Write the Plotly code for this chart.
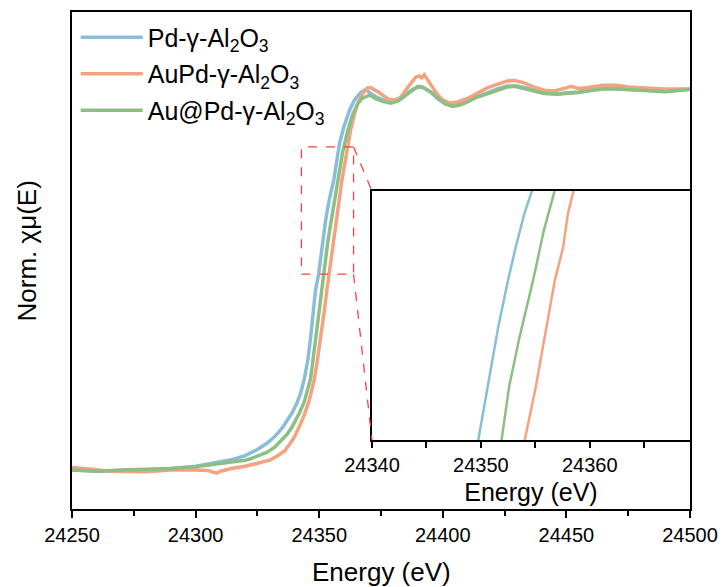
import plotly.graph_objects as go

# ---------------- data ----------------
pd_E = [24250, 24255, 24260, 24270, 24280, 24290, 24295, 24300, 24305, 24310,
        24315, 24320, 24325, 24329, 24332, 24335, 24337, 24339, 24341, 24342.5,
        24344, 24345.4, 24346.5, 24347.5, 24348.5, 24349.76, 24350.6, 24351.6, 24352.5, 24353.2,
        24354.0, 24354.65, 24355.9, 24358.2, 24360, 24362.3, 24364.3, 24366.6, 24369, 24370,
        24373, 24376, 24379, 24382, 24385, 24388, 24390, 24392, 24395, 24398,
        24401, 24404, 24407, 24410, 24414, 24418, 24422, 24426, 24430, 24434,
        24438, 24442, 24446, 24450, 24455, 24460, 24465, 24470, 24475, 24480,
        24485, 24490, 24495, 24500]
pd_mu = [0.001, 0.000, -0.003, -0.001, 0.000, 0.004, 0.007, 0.010, 0.016, 0.021,
         0.028, 0.038, 0.054, 0.071, 0.088, 0.110, 0.129, 0.150, 0.176, 0.202,
         0.240, 0.289, 0.346, 0.412, 0.472, 0.514, 0.560, 0.611, 0.651, 0.679,
         0.708, 0.727, 0.761, 0.857, 0.901, 0.945, 0.971, 0.990, 1.000, 0.992,
         0.979, 0.971, 0.969, 0.974, 0.987, 1.000, 1.005, 1.003, 0.992, 0.974,
         0.961, 0.958, 0.963, 0.971, 0.981, 0.990, 1.000, 1.008, 1.008, 1.003,
         0.995, 0.990, 0.987, 0.990, 0.992, 0.997, 1.001, 1.001, 0.999, 0.999,
         0.996, 0.996, 0.997, 1.000]

aupd_E = [24250, 24255, 24260, 24265, 24270, 24280, 24290, 24295, 24300, 24305,
          24308.5, 24310, 24315, 24320, 24325, 24330, 24333, 24336, 24338, 24340,
          24342, 24344, 24346, 24347, 24348, 24349, 24350.5, 24352, 24353.1, 24354.0,
          24355.05, 24355.7, 24356.8, 24357.55, 24358.0, 24358.5, 24359.2, 24362.7, 24364.5, 24366,
          24367.5, 24369.5, 24371, 24372.5, 24374, 24376, 24378, 24380, 24382.5, 24385,
          24387, 24389, 24390.5, 24391.5, 24392.5, 24394, 24396, 24398, 24400, 24403,
          24406, 24410, 24414, 24418, 24422, 24426, 24429, 24433, 24437, 24441,
          24445, 24448, 24450, 24452, 24455, 24460, 24465, 24470, 24475, 24480,
          24485, 24490, 24495, 24500]
aupd_mu = [0.007, 0.005, 0.001, -0.003, -0.004, -0.004, 0.000, 0.001, 0.000, -0.001,
           -0.008, -0.003, 0.005, 0.010, 0.018, 0.026, 0.037, 0.050, 0.068, 0.087,
           0.115, 0.145, 0.184, 0.210, 0.238, 0.276, 0.341, 0.415, 0.472, 0.514,
           0.560, 0.594, 0.651, 0.679, 0.708, 0.727, 0.761, 0.892, 0.940, 0.969,
           0.987, 1.003, 1.004, 0.997, 0.992, 0.982, 0.974, 0.971, 0.974, 0.997,
           1.016, 1.031, 1.034, 1.029, 1.037, 1.024, 1.003, 0.984, 0.971, 0.963,
           0.966, 0.975, 0.988, 1.003, 1.012, 1.021, 1.022, 1.016, 1.005, 0.997,
           0.995, 0.999, 1.003, 1.007, 1.001, 1.005, 1.010, 1.010, 1.005, 1.003,
           1.001, 1.000, 1.000, 1.000]

aupd_core_E = [24250, 24255, 24260, 24270, 24280, 24290, 24300, 24305, 24310, 24315,
               24320, 24322, 24325, 24329, 24332, 24335, 24337, 24339, 24342, 24344,
               24345, 24346.5, 24347.5, 24348.5, 24349.5, 24350.5, 24351.9, 24352.6, 24353.5, 24354.2,
               24354.8, 24355.8, 24356.2, 24356.8, 24357.6, 24359.5, 24361.6, 24363.5, 24365.5, 24367.5,
               24370.4, 24373, 24376, 24379, 24382, 24385, 24388, 24390, 24392, 24395,
               24398, 24401, 24404, 24407, 24410, 24414, 24418, 24422, 24426, 24429,
               24433, 24437, 24441, 24446, 24450, 24455, 24460, 24465, 24470, 24475,
               24480, 24485, 24490, 24495, 24500]
aupd_core_mu = [0.000, -0.001, -0.003, 0.000, 0.001, 0.004, 0.009, 0.013, 0.016, 0.020,
                0.026, 0.029, 0.037, 0.047, 0.060, 0.079, 0.094, 0.113, 0.150, 0.180,
                0.205, 0.240, 0.289, 0.341, 0.399, 0.457, 0.514, 0.560, 0.600, 0.628,
                0.651, 0.694, 0.708, 0.727, 0.761, 0.835, 0.892, 0.932, 0.961, 0.976,
                0.984, 0.974, 0.967, 0.963, 0.969, 0.984, 0.999, 1.007, 1.005, 0.993,
                0.976, 0.961, 0.954, 0.958, 0.966, 0.979, 0.987, 0.997, 1.005, 1.007,
                1.001, 0.995, 0.988, 0.986, 0.988, 0.991, 0.996, 1.000, 1.000, 0.999,
                0.997, 0.995, 0.993, 0.996, 0.999]

names = ["Pd-γ-Al<sub>2</sub>O<sub>3</sub>",
         "AuPd-γ-Al<sub>2</sub>O<sub>3</sub>",
         "Au@Pd-γ-Al<sub>2</sub>O<sub>3</sub>"]
colors = ["#88BED9", "#F4A27F", "#8DBF84"]

main_xrange = [24250, 24500]
main_yrange = [-0.102, 1.202]
inset_xrange = [24340, 24369.2]
inset_yrange = [0.514, 0.727]
zoom_box_x = [24342.8, 24363.9]
zoom_box_y = [0.514, 0.848]
main_xticks = [24250, 24300, 24350, 24400, 24450, 24500]
inset_xticks = [24340, 24350, 24360]

FONT = "Arial, Liberation Sans, sans-serif"

fig = go.Figure()
series = [(pd_E, pd_mu), (aupd_E, aupd_mu), (aupd_core_E, aupd_core_mu)]
for i, ((E, mu), nm, c) in enumerate(zip(series, names, colors)):
    fig.add_trace(go.Scatter(x=E, y=mu, mode="lines", name=nm, legendgroup=f"g{i}",
                             line=dict(color=c, width=3.5)))
for (E, mu), nm, c in zip(series, names, colors):
    fig.add_trace(go.Scatter(x=E, y=mu, mode="lines", name=nm, showlegend=False,
                             line=dict(color=c, width=2.5), xaxis="x2", yaxis="y2"))

ix0, ix1 = 0.4854, 1.0
iy0, iy1 = 0.1388, 0.6398

fig.update_layout(
    width=723, height=587,
    margin=dict(l=72, r=33, t=12, b=78),
    paper_bgcolor="white", plot_bgcolor="white",
    font=dict(family=FONT, color="black", size=20),
    showlegend=True,
    legend=dict(x=0.006, y=0.995, xanchor="left", yanchor="top",
                font=dict(size=25), bgcolor="rgba(0,0,0,0)",
                itemwidth=62, tracegroupgap=1),
    xaxis=dict(range=main_xrange, tickvals=main_xticks, tickformat="d", automargin=False,
               showline=True, linecolor="black", linewidth=2, mirror=True,
               ticks="outside", ticklen=7, tickwidth=1.5, tickcolor="black",
               minor=dict(ticks="outside", ticklen=5, tickwidth=1.5, tickcolor="black", dtick=25),
               showgrid=False, zeroline=False,
               tickfont=dict(size=20)),
    yaxis=dict(range=main_yrange, showline=True, linecolor="black", linewidth=2, mirror=True,
               automargin=False,
               showticklabels=False, ticks="", showgrid=False, zeroline=False),
    xaxis2=dict(domain=[ix0, ix1], anchor="y2", range=inset_xrange, tickvals=inset_xticks,
                tickformat="d", automargin=False,
                showline=True, linecolor="black", linewidth=2, mirror=True,
                ticks="outside", ticklen=6, tickwidth=1.5, tickcolor="black",
                minor=dict(ticks="outside", ticklen=6, tickwidth=1.5, tickcolor="black", dtick=5),
                showgrid=False, zeroline=False,
                title=dict(text="Energy (eV)", font=dict(size=25), standoff=8),
                tickfont=dict(size=20)),
    yaxis2=dict(domain=[iy0, iy1], anchor="x2", range=inset_yrange, automargin=False,
                showline=True, linecolor="black", linewidth=2, mirror=True,
                showticklabels=False, ticks="", showgrid=False, zeroline=False),
)

# axis titles of the main plot
fig.add_annotation(text="Energy (eV)", xref="paper", yref="paper", x=0.5, y=-0.127,
                   xanchor="center", yanchor="middle", showarrow=False, font=dict(size=26),
                   borderpad=0)
fig.add_annotation(text="Norm. χμ(E)", xref="paper", yref="paper", x=-0.073, y=0.52,
                   xanchor="center", yanchor="middle", textangle=-90, showarrow=False,
                   font=dict(size=26), borderpad=0)

# white background behind inset
fig.add_shape(type="rect", xref="paper", yref="paper", x0=ix0, x1=ix1, y0=iy0, y1=iy1,
              fillcolor="white", line=dict(width=0), layer="below")

# zoom box and connector lines (main data coordinates)
red = "#FF4040"
fig.add_shape(type="rect", xref="x", yref="y", x0=zoom_box_x[0], x1=zoom_box_x[1],
              y0=zoom_box_y[0], y1=zoom_box_y[1],
              line=dict(color=red, width=1.3, dash="dash"))
inset_left_x = main_xrange[0] + ix0 * (main_xrange[1] - main_xrange[0])
inset_top_y = main_yrange[0] + iy1 * (main_yrange[1] - main_yrange[0])
inset_bot_y = main_yrange[0] + iy0 * (main_yrange[1] - main_yrange[0])
fig.add_shape(type="line", xref="x", yref="y", x0=zoom_box_x[1], y0=zoom_box_y[1],
              x1=inset_left_x, y1=inset_top_y, line=dict(color=red, width=1.3, dash="dash"))
fig.add_shape(type="line", xref="x", yref="y", x0=zoom_box_x[1], y0=zoom_box_y[0],
              x1=inset_left_x, y1=inset_bot_y, line=dict(color=red, width=1.3, dash="dash"))

fig.write_html("out.html")
